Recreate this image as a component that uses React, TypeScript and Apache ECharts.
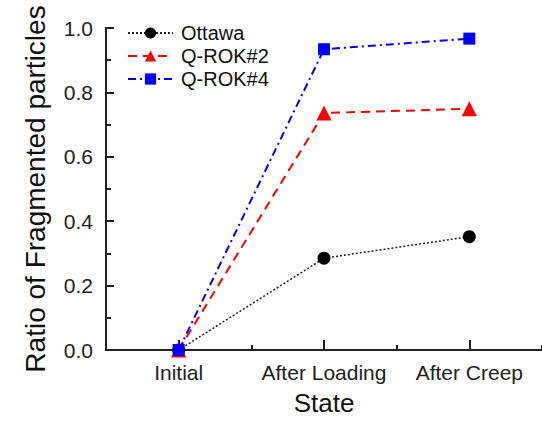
import React, { useEffect, useRef } from "react";
import * as echarts from "echarts";

const categories = ["Initial", "After Loading", "After Creep"];
const ottawa = [0, 0.285, 0.352];
const qrok2 = [0, 0.736, 0.749];
const qrok4 = [0, 0.934, 0.967];
const yTicks = [0, 0.2, 0.4, 0.6, 0.8, 1.0];

const FONT = "Liberation Sans, Arial, sans-serif";

export default function App() {
  const ref = useRef<HTMLDivElement>(null);
  useEffect(() => {
    if (!ref.current) return;
    const chart = echarts.init(ref.current, undefined, { renderer: "svg" });
    chart.setOption({
      animation: false,
      backgroundColor: "#ffffff",
      textStyle: { fontFamily: FONT },
      grid: { left: 106, top: 28, bottom: 64, width: 443, containLabel: false },
      legend: {
        orient: "vertical",
        left: 122,
        top: 18,
        itemWidth: 45,
        itemHeight: 14,
        itemGap: 3,
        textStyle: { fontSize: 20, color: "#111", fontFamily: FONT, padding: [0, 0, 0, 3] },
        data: ["Ottawa", "Q-ROK#2", "Q-ROK#4"],
      },
      xAxis: [
        {
          type: "category",
          data: categories,
          boundaryGap: true,
          position: "bottom",
          axisLine: { show: true, lineStyle: { color: "#222", width: 2 } },
          axisTick: { show: true, inside: true, alignWithLabel: true, interval: 0, length: 10, lineStyle: { color: "#222", width: 2 } },
          axisLabel: { fontSize: 21, color: "#222", margin: 12, fontFamily: FONT, interval: 0, hideOverlap: false },
          name: "State",
          nameLocation: "middle",
          nameGap: 40,
          nameTextStyle: { fontSize: 26, color: "#111", fontFamily: FONT },
          splitLine: { show: false },
        },
        {
          type: "value",
          min: 0.5,
          max: 3.5,
          interval: 0.5,
          position: "bottom",
          axisLine: { show: false },
          axisTick: { show: true, inside: true, length: 5, lineStyle: { color: "#222", width: 2 } },
          axisLabel: { show: false },
          splitLine: { show: false },
        },
      ],
      yAxis: {
        type: "value",
        min: 0,
        max: 1,
        interval: 0.2,
        axisLine: { show: true, lineStyle: { color: "#222", width: 2 } },
        axisTick: { show: true, inside: true, length: 8, lineStyle: { color: "#222", width: 2 } },
        minorTick: { show: true, splitNumber: 2, length: 5, lineStyle: { color: "#222", width: 2 } },
        axisLabel: {
          fontSize: 21,
          color: "#222",
          margin: 13,
          fontFamily: FONT,
          formatter: (v: number) => (yTicks.some((t) => Math.abs(t - v) < 1e-9) ? v.toFixed(1) : ""),
        },
        splitLine: { show: false },
        name: "Ratio of Fragmented particles",
        nameLocation: "middle",
        nameGap: 57,
        nameTextStyle: { fontSize: 28, color: "#111", fontFamily: FONT },
      },
      series: [
        {
          name: "Ottawa",
          type: "line",
          data: ottawa,
          symbol: "circle",
          symbolSize: 13,
          itemStyle: { color: "#000000" },
          lineStyle: { color: "#222", width: 1.5, type: [2, 2] },
          z: 3,
        },
        {
          name: "Q-ROK#2",
          type: "line",
          data: qrok2,
          symbol: "triangle",
          symbolSize: 15,
          itemStyle: { color: "#ff0000" },
          lineStyle: { color: "#ff0000", width: 2, type: [9, 6] },
          z: 4,
        },
        {
          name: "Q-ROK#4",
          type: "line",
          data: qrok4,
          symbol: "rect",
          symbolSize: 12,
          itemStyle: { color: "#0000ff" },
          lineStyle: { color: "#0000ff", width: 2, type: [8, 4, 2, 4] },
          z: 5,
        },
      ],
    });
    return () => chart.dispose();
  }, []);
  return (
    <div
      ref={ref}
      style={{ position: "fixed", left: 0, top: 0, width: 542, height: 421, background: "#fff" }}
    />
  );
}
